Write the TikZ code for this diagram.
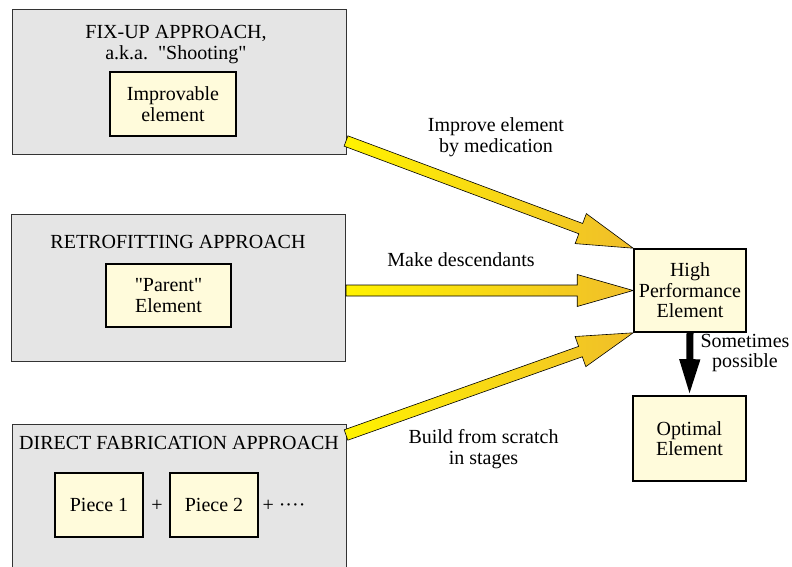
\documentclass[tikz,border=0pt]{standalone}
\usepackage{fontspec}
\newfontfamily\timesfont{Liberation Serif}[Ligatures=Common]
\usetikzlibrary{calc,arrows.meta}

\definecolor{panelgray}{RGB}{229,229,229}
\definecolor{elemfill}{RGB}{255,251,219}
\definecolor{arrowyellow}{RGB}{255,242,0}
\definecolor{arrowgold}{RGB}{240,190,42}

\tikzset{
  every node/.style={font=\timesfont\fontsize{20}{20.5}\selectfont},
  panel/.style={draw=black!80, fill=panelgray, line width=0.9pt, minimum width=334pt, inner sep=0pt},
  element/.style={draw=black, fill=elemfill, line width=1.6pt, align=center, inner sep=0pt},
  heading/.style={align=center, inner sep=0pt},
  fatarrow/.style={draw=black, line width=0.6pt, left color=arrowyellow, right color=arrowgold, line join=miter},
  blackarrow/.style={line width=7pt, -{Triangle[length=36pt,width=19pt]}}
}

% fat yellow arrow from #1 to #2
\newcommand{\yellowarrow}[2]{%
  \coordinate (hb) at ($(#2)!56pt!(#1)$);
  \path[fatarrow] ($(#1)!5.5pt!90:(#2)$) -- ($(hb)!5.5pt!90:(#2)$)
    -- ($(hb)!16pt!90:(#2)$) -- (#2) -- ($(hb)!16pt!-90:(#2)$)
    -- ($(hb)!5.5pt!-90:(#2)$) -- ($(#1)!5.5pt!-90:(#2)$) -- cycle;
}

\begin{document}
\begin{tikzpicture}[x=1pt,y=-1pt]
        \clip (0,0) rectangle (792,567);

        % three approaches
        \node[panel, minimum height=145pt] (fix) at (179,81.5) {};
        \node[panel, minimum height=147pt] (retro) at (178,287.5) {};
        \node[panel, minimum height=160pt] (direct) at (179,504) {};

        \node[heading] (fixtitle) at (176,44.5) {FIX-UP APPROACH,\\a.k.a.\ \ "Shooting"};
        \node[heading, anchor=base] (retrotitle) at (178,248) {RETROFITTING APPROACH};
        \node[heading, anchor=base] (directtitle) at (179,449) {DIRECT FABRICATION APPROACH};

        \node[element, minimum width=126pt, minimum height=64pt] (improvable) at (173,104) {Improvable\\element};
        \node[element, minimum width=125pt, minimum height=63pt] (parent) at (168.5,295.5) {"Parent"\\Element};
        \node[element, minimum width=88pt, minimum height=64pt] (piece1) at (99,505) {Piece 1};
        \node[element, minimum width=88pt, minimum height=64pt] (piece2) at (214,505) {Piece 2};
        \node[heading, anchor=base] (plus) at (157,511) {+};
        \node[heading, anchor=base] (more) at (284,511) {+ ····};

        % results
        \node[element, minimum width=112pt, minimum height=83pt] (hp) at (690,290.5) {High\\Performance\\Element};
        \node[element, minimum width=113pt, minimum height=85pt] (optimal) at (689.5,438.5) {Optimal\\Element};

        \coordinate (fixout) at (346,141);
        \coordinate (retroout) at (346,290.5);
        \coordinate (directout) at (346,435);

        \yellowarrow{fixout}{hp.north west}
        \yellowarrow{retroout}{hp.west}
        \yellowarrow{directout}{hp.south west}

        \draw[blackarrow] (hp.south) -- (optimal.north);

        %arrow labels
        \node[heading] (improvelabel) at (496,137) {Improve element\\by medication};
        \node[heading, anchor=base] (makelabel) at (461,266) {Make descendants};
        \node[heading] (buildlabel) at (483.5,449) {Build from scratch\\in stages};
        \node[heading] (sometimes) at (745,353) {Sometimes\\possible};
\end{tikzpicture}
\end{document}
